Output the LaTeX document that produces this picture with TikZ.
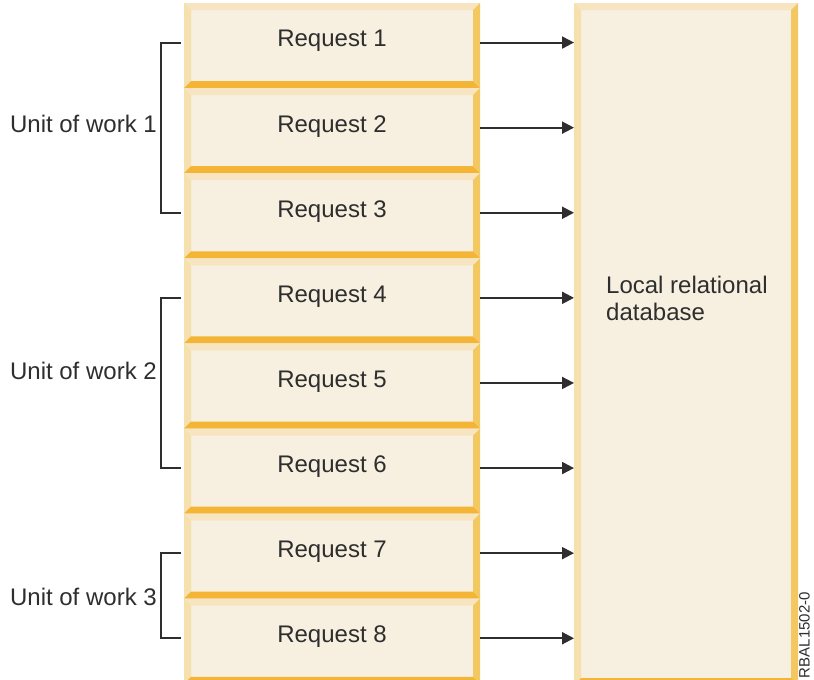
\documentclass[tikz,border=0pt]{standalone}
\usepackage{fontspec}
\setmainfont{Liberation Sans}
\usetikzlibrary{arrows.meta,positioning}
\definecolor{boxfill}{HTML}{F7F0E0}
\definecolor{bvtop}{HTML}{F6E5C0}
\definecolor{bvleft}{HTML}{F5E0AE}
\definecolor{bvright}{HTML}{F4C860}
\definecolor{bvbottom}{HTML}{F4B436}
\definecolor{ink}{HTML}{2E2E2E}
\tikzset{
  reqbox/.style={minimum width=296pt,minimum height=85.1pt,inner sep=0pt,outer sep=0pt,fill=boxfill},
  dbbox/.style={minimum width=224pt,minimum height=682pt,inner sep=0pt,outer sep=0pt,fill=boxfill},
  txt/.style={inner sep=0pt,text=ink,font=\fontsize{24}{27}\selectfont},
  flow/.style={draw=ink,line width=2pt,-{Triangle[length=12pt,width=12pt]}},
  brk/.style={draw=ink,line width=2pt}
}
% bevelled edges round a node
\newcommand{\bevelbox}[1]{%
  \fill[bvtop] (#1.north west) -- (#1.north east) -- ([shift={(-7,7)}]#1.north east) -- ([shift={(7,7)}]#1.north west) -- cycle;
  \fill[bvleft] (#1.north west) -- ([shift={(7,7)}]#1.north west) -- ([shift={(7,-7)}]#1.south west) -- (#1.south west) -- cycle;
  \fill[bvright] (#1.north east) -- (#1.south east) -- ([shift={(-7,-7)}]#1.south east) -- ([shift={(-7,7)}]#1.north east) -- cycle;
  \fill[bvbottom] (#1.south west) -- (#1.south east) -- ([shift={(-7,-7)}]#1.south east) -- ([shift={(7,-7)}]#1.south west) -- cycle;
}
\begin{document}
\begin{tikzpicture}[x=1pt,y=-1pt]
  \useasboundingbox[fill=white] (0,0) rectangle (814,680);
  % requests
  \node[reqbox,anchor=north west] (r1) at (184,3) {};
  \foreach \i [remember=\i as \j (initially 1)] in {2,...,8}
    \node[reqbox,below=0pt of r\j] (r\i) {};
  % database
  \node[dbbox,anchor=north west] (db) at (574,3) {};
  \foreach \i in {1,...,8} {\bevelbox{r\i}}
  \bevelbox{db}
  \foreach \i in {1,...,8} {
    \node[txt] (t\i) at ([yshift=4.5pt]r\i.center) {Request \i};
    \draw[flow] ([yshift=3pt]r\i.east) -- ([yshift=3pt]r\i.east -| db.west);
  }
  \node[txt,align=left,anchor=west] (dbt) at (606,298) {Local relational\\database};
  % units of work
  \draw[brk] ([xshift=-3pt,yshift=3pt]r1.west) -- ++(-20,0) |- ([xshift=-3pt,yshift=3pt]r3.west);
  \draw[brk] ([xshift=-3pt,yshift=3pt]r4.west) -- ++(-20,0) |- ([xshift=-3pt,yshift=3pt]r6.west);
  \draw[brk] ([xshift=-3pt,yshift=3pt]r7.west) -- ++(-20,0) |- ([xshift=-3pt,yshift=3pt]r8.west);
  \node[txt,anchor=east] (u1) at (157,124) {Unit of work 1};
  \node[txt,anchor=east] (u2) at (157,371) {Unit of work 2};
  \node[txt,anchor=east] (u3) at (157,597) {Unit of work 3};
  \node[inner sep=0pt,text=ink,font=\fontsize{15}{17}\selectfont,rotate=90,anchor=north east] (fig) at (799,592) {RBAL1502-0};
\end{tikzpicture}
\end{document}
